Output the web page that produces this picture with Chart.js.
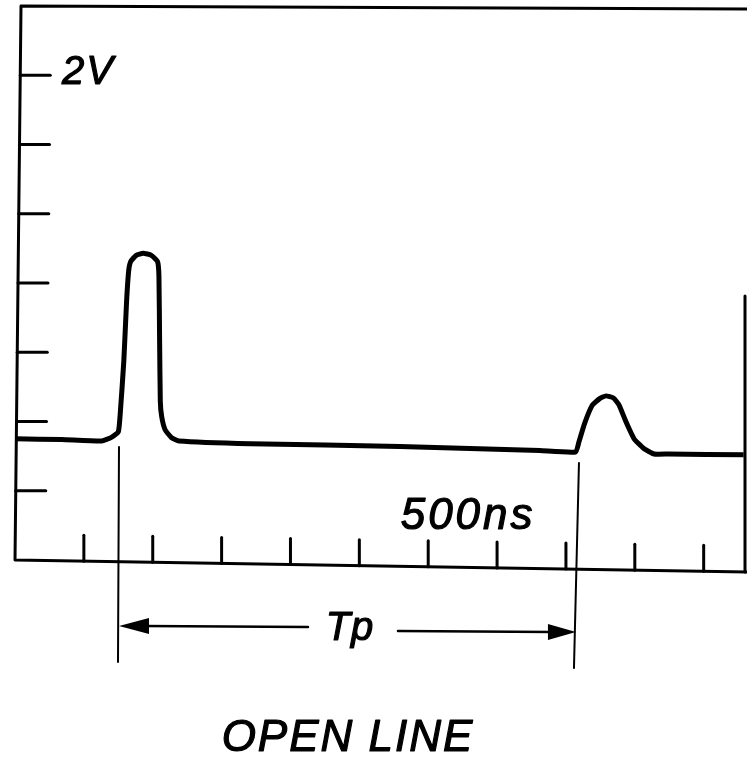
<!DOCTYPE html>
<html>
<head>
<meta charset="utf-8">
<script src="https://cdn.jsdelivr.net/npm/chart.js@4/dist/chart.umd.min.js"></script>
<style>
  html, body { margin: 0; padding: 0; background: #fff; }
  #wrap { width: 747px; height: 758px; position: relative; }
</style>
</head>
<body>
<div id="wrap"><canvas id="c" width="747" height="758"></canvas></div>
<script>
// Trace, in screen divisions (x: horizontal divisions, y: vertical divisions)
const traceX = [0, 0.68, 1.26, 1.40, 1.50, 1.53, 1.58, 1.62, 1.65, 1.68, 1.76, 1.86, 1.98, 2.07, 2.09, 2.10, 2.11, 2.13, 2.18, 2.27, 2.38, 3.42, 5.59, 7.62, 8.14, 8.19, 8.27, 8.38, 8.49, 8.58, 8.69, 8.77, 8.87, 8.99, 9.13, 9.28, 9.49, 10.58];
const traceY = [1.75, 1.74, 1.72, 1.77, 1.85, 2.14, 2.87, 3.73, 4.17, 4.31, 4.40, 4.43, 4.40, 4.31, 4.10, 3.15, 2.29, 2.07, 1.88, 1.77, 1.72, 1.68, 1.64, 1.58, 1.56, 1.71, 1.97, 2.23, 2.33, 2.37, 2.34, 2.24, 2.00, 1.75, 1.61, 1.53, 1.53, 1.52];
const xTicks = [1, 2, 3, 4, 5, 6, 7, 8, 9, 10];
const yTicks = [1, 2, 3, 4, 5, 6, 7];
const yTickLabel = "2V";       // at yTicks[6]
const xLabel = "500ns";
const markerX = [1.51, 8.16];   // start of pulse and start of reflection
const periodLabel = "Tp";
const title = "OPEN LINE";

const points = traceX.map((x, i) => ({ x: x, y: traceY[i] }));
const FONT = "italic 400 {s}px 'Liberation Sans', 'DejaVu Sans', sans-serif";
const font = s => FONT.replace('{s}', s);

function heavyText(ctx, txt, x, y, spacing) {
  ctx.letterSpacing = (spacing || 0) + 'px';
  ctx.fillText(txt, x, y);
  ctx.strokeText(txt, x, y);
  ctx.letterSpacing = '0px';
}

const scopePlugin = {
  id: 'scope',
  afterDatasetsDraw(chart) {
    const ctx = chart.ctx;
    const a = chart.chartArea;
    const xs = chart.scales.x, ys = chart.scales.y;
    ctx.save();
    ctx.strokeStyle = '#000';
    ctx.fillStyle = '#000';
    ctx.lineCap = 'round';
    ctx.lineJoin = 'round';
    // frame
    ctx.lineWidth = 3;
    ctx.beginPath();
    ctx.moveTo(a.right + 2, a.top + 3);
    ctx.lineTo(a.left + 6, a.top);
    ctx.lineTo(a.left, a.bottom);
    ctx.lineTo(a.right + 2, a.bottom + 12);
    ctx.stroke();
    ctx.beginPath();
    ctx.moveTo(a.right, a.top + 290);
    ctx.lineTo(a.right, a.bottom + 12);
    ctx.stroke();
    // left ticks
    yTicks.forEach(v => {
      const y = ys.getPixelForValue(v);
      const xl = a.left + 6 * (1 - (y - a.top) / (a.bottom - a.top));
      ctx.beginPath();
      ctx.moveTo(xl, y);
      ctx.lineTo(xl + 30, y);
      ctx.stroke();
    });
    // bottom ticks
    xTicks.forEach(v => {
      const x = xs.getPixelForValue(v);
      const yb = a.bottom + 12 * (x - a.left) / (a.right - a.left);
      ctx.beginPath();
      ctx.moveTo(x, yb);
      ctx.lineTo(x, yb - 26);
      ctx.stroke();
    });
    // markers
    ctx.lineWidth = 2;
    const m0 = xs.getPixelForValue(markerX[0]);
    const m1 = xs.getPixelForValue(markerX[1]);
    ctx.beginPath();
    ctx.moveTo(m0, a.bottom - 113);
    ctx.lineTo(m0 - 1, a.bottom + 102);
    ctx.moveTo(m1 + 2, a.bottom - 97);
    ctx.lineTo(m1 - 3, a.bottom + 108);
    ctx.stroke();
    // arrow line
    const ay0 = a.bottom + 66, ay1 = a.bottom + 72;
    const mid = (m0 + m1) / 2;
    ctx.lineWidth = 2.5;
    ctx.beginPath();
    ctx.moveTo(m0 + 25, ay0);
    ctx.lineTo(mid - 40, ay0 + 1);
    ctx.moveTo(mid + 50, ay1 - 1);
    ctx.lineTo(m1 - 25, ay1);
    ctx.stroke();
    // arrowheads
    ctx.beginPath();
    ctx.moveTo(m0, ay0);
    ctx.lineTo(m0 + 30, ay0 - 8);
    ctx.lineTo(m0 + 30, ay0 + 8);
    ctx.closePath();
    ctx.fill();
    ctx.beginPath();
    ctx.moveTo(m1 - 1, ay1);
    ctx.lineTo(m1 - 29, ay1 - 8);
    ctx.lineTo(m1 - 29, ay1 + 8);
    ctx.closePath();
    ctx.fill();
    // texts
    ctx.lineWidth = 1.2;
    ctx.textBaseline = 'alphabetic';
    ctx.textAlign = 'left';
    ctx.font = font(40);
    heavyText(ctx, yTickLabel, a.left + 47, ys.getPixelForValue(yTicks[6]) + 9, 2);
    ctx.font = font(44);
    heavyText(ctx, xLabel, xs.getPixelForValue(5.6), a.bottom - 31, 3);
    ctx.textAlign = 'center';
    ctx.font = font(40);
    heavyText(ctx, periodLabel, mid + 2, ay0 + 14, 1);
    ctx.font = font(44);
    heavyText(ctx, title, 348, 751, 2);
    ctx.restore();
  }
};

new Chart(document.getElementById('c'), {
  type: 'scatter',
  data: {
    datasets: [{
      data: points,
      showLine: true,
      borderColor: '#000',
      borderWidth: 5,
      pointRadius: 0,
      tension: 0.15,
      fill: false,
      clip: false
    }]
  },
  options: {
    responsive: false,
    animation: false,
    devicePixelRatio: 1,
    layout: { padding: { left: 15, top: 6, right: 2, bottom: 198 } },
    plugins: { legend: { display: false }, tooltip: { enabled: false } },
    scales: {
      x: { type: 'linear', min: 0, max: 10.6, display: false },
      y: { type: 'linear', min: 0, max: 8, display: false }
    }
  },
  plugins: [scopePlugin]
});
</script>
</body>
</html>
